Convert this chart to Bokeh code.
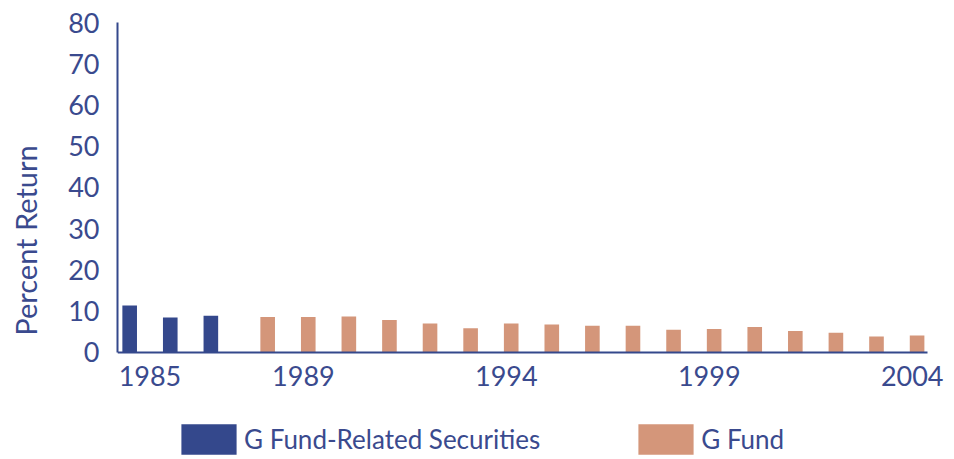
from bokeh.plotting import figure
from bokeh.models import (ColumnDataSource, FixedTicker, CustomJSTickFormatter,
                          Legend, LegendItem, Range1d, Title)
from bokeh.transform import dodge
from bokeh.embed import file_html
from bokeh.resources import INLINE

# ---- data ----
related_years = [1985, 1986, 1987]
related_returns = [11.4, 8.5, 8.9]
gfund_years = [1988, 1989, 1990, 1991, 1992, 1993, 1994, 1995, 1996,
               1997, 1998, 1999, 2000, 2001, 2002, 2003, 2004]
gfund_returns = [8.6, 8.6, 8.7, 7.9, 7.0, 5.9, 7.0, 6.8, 6.5,
                 6.5, 5.5, 5.7, 6.2, 5.2, 4.8, 3.9, 4.1]
tick_years = [1985, 1989, 1994, 1999, 2004]
y_ticks = [0, 10, 20, 30, 40, 50, 60, 70, 80]

# ---- style ----
BLUE = "#34488C"
TAN = "#D4967A"
TEXT = "#3A4A8E"
FONT = "Lato"
GAP = 0.4           # visual gap between the two series
FIRST_NUDGE = 0.5   # label nudge for first label
LABEL_NUDGE = -0.12
X_START, X_AXIS_END, X_VIEW_END = 1984.7, 2004.65, 2005.1
Y_VIEW_START = -25.7  # extra room under the axis for the legend

p = figure(frame_width=828, frame_height=436, output_backend="svg", toolbar_location=None,
           x_range=Range1d(X_START, X_VIEW_END), y_range=Range1d(Y_VIEW_START, 80),
           min_border_left=116, min_border_right=2, min_border_top=22,
           min_border_bottom=1)

src1 = ColumnDataSource(dict(year=related_years, ret=related_returns))
src2 = ColumnDataSource(dict(year=gfund_years, ret=gfund_returns))

r1 = p.vbar(x="year", top="ret", bottom=0, width=0.36, source=src1,
            fill_color=BLUE, line_color=None)
r2 = p.vbar(x=dodge("year", GAP), top="ret", bottom=0, width=0.36, source=src2,
            fill_color=TAN, line_color=None)

p.xgrid.visible = False
p.ygrid.visible = False
p.outline_line_color = None
p.background_fill_color = "white"
p.border_fill_color = "white"

tick_pos = [y + (GAP + LABEL_NUDGE if y > 1987 else FIRST_NUDGE) for y in tick_years]
p.xaxis.ticker = FixedTicker(ticks=tick_pos)
p.xaxis.formatter = CustomJSTickFormatter(code="return Math.floor(tick + 1e-6).toFixed(0);")
p.xaxis.fixed_location = 0
p.xaxis.bounds = (X_START, X_AXIS_END)
p.yaxis.ticker = FixedTicker(ticks=y_ticks)
p.yaxis.bounds = (0, 80)

for ax in (p.xaxis, p.yaxis):
    ax.axis_line_color = BLUE
    ax.axis_line_width = 2
    ax.major_tick_line_color = None
    ax.minor_tick_line_color = None
    ax.major_label_text_color = TEXT
    ax.major_label_text_font = FONT
    ax.major_label_text_font_size = "27px"

p.xaxis.major_label_standoff = 8
p.yaxis.major_label_standoff = 12
# blank axis label only adds room between the tick labels and the title
p.yaxis.axis_label = " "
p.yaxis.axis_label_text_font_size = "13px"
p.yaxis.axis_label_standoff = 0

ytitle = Title(text="Percent Return", align="center", offset=60,
               text_font=FONT, text_font_size="29px", text_font_style="normal",
               text_color=TEXT)
p.add_layout(ytitle, "left")

legend = Legend(items=[LegendItem(label="G Fund-Related Securities", renderers=[r1]),
                       LegendItem(label="G Fund", renderers=[r2])],
                orientation="horizontal", glyph_width=69, glyph_height=38,
                label_standoff=1, spacing=91, padding=0, margin=0,
                border_line_color=None, background_fill_alpha=0,
                label_text_font=FONT, label_text_font_size="26px",
                label_text_color=TEXT, label_height=38,
                location=(57, 0))
p.add_layout(legend, "center")

open("out.html", "w").write(file_html(p, INLINE))
